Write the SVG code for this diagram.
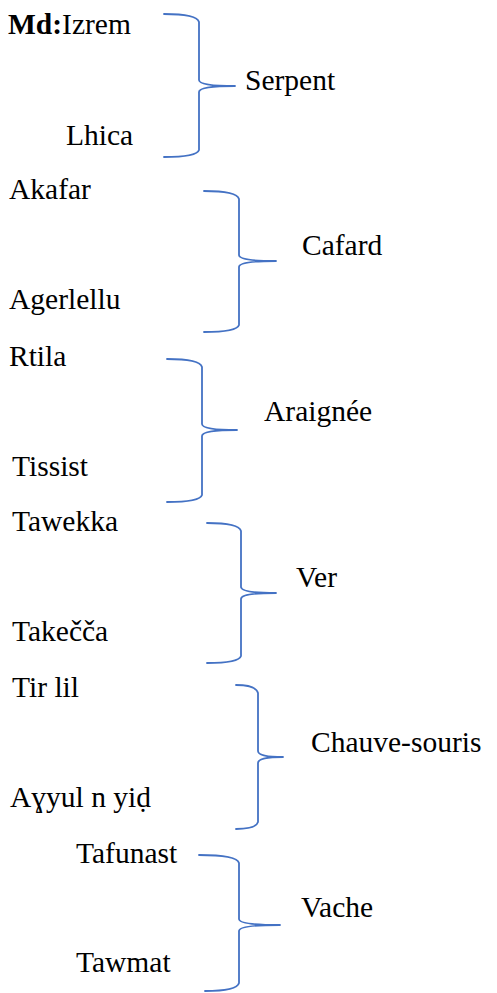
<svg xmlns="http://www.w3.org/2000/svg" width="497" height="993" viewBox="0 0 497 993">
<style>
.t{font-size:29.5px;fill:#000}
.b{font-weight:bold}
.br{fill:none;stroke:#4472C4;stroke-width:1.8;stroke-linecap:round;stroke-linejoin:round}
</style>
<rect width="497" height="993" fill="#fff"/>
<g id="connectors">
<path class="br" d="M164,14 Q197,14 199,22 L199,80 Q199,86 235,86 Q199,86 199,92 L199,150 Q197,157 164,157"/>
<path class="br" d="M204,191 Q237,191 239,199 L239,255 Q239,261 276,261 Q239,261 239,267 L239,325 Q237,332 204,332"/>
<path class="br" d="M167,359 Q200,359 202,367 L202,424 Q202,430 237,430 Q202,430 202,436 L202,495 Q200,502 167,502"/>
<path class="br" d="M207,523 Q239,523 241,531 L241,587 Q241,593 276,593 Q241,593 241,599 L241,656 Q239,663 207,663"/>
<path class="br" d="M236,685 Q256,685 258,693 L258,751 Q258,757 283,757 Q258,757 258,763 L258,822 Q256,829 236,829"/>
<path class="br" d="M199,855 Q237,855 239,863 L239,919 Q239,925 280,925 Q239,925 239,931 L239,983 Q237,991 205,991"/>
</g>
<g id="serpent" class="t" font-family="Liberation Serif">
<text x="8" y="34"><tspan class="b">Md:</tspan>Izrem</text>
<text x="66" y="145">Lhica</text>
<text x="245" y="90">Serpent</text>
</g>
<g id="cafard" class="t" font-family="Liberation Serif">
<text x="9" y="199">Akafar</text>
<text x="9" y="309">Agerlellu</text>
<text x="302" y="255">Cafard</text>
</g>
<g id="araignee" class="t" font-family="Liberation Serif">
<text x="9" y="366">Rtila</text>
<text x="12" y="476">Tissist</text>
<text x="264" y="421">Araignée</text>
</g>
<g id="ver" class="t" font-family="Liberation Serif">
<text x="12" y="531">Tawekka</text>
<text x="12" y="641">Takečča</text>
<text x="296" y="587">Ver</text>
</g>
<g id="chauve-souris" class="t" font-family="Liberation Serif">
<text x="12" y="697">Tir lil</text>
<text x="10" y="807">Aɣyul n yiḍ</text>
<text x="311" y="752">Chauve-souris</text>
</g>
<g id="vache" class="t" font-family="Liberation Serif">
<text x="76" y="863">Tafunast</text>
<text x="76" y="972">Tawmat</text>
<text x="301" y="917">Vache</text>
</g>
</svg>
